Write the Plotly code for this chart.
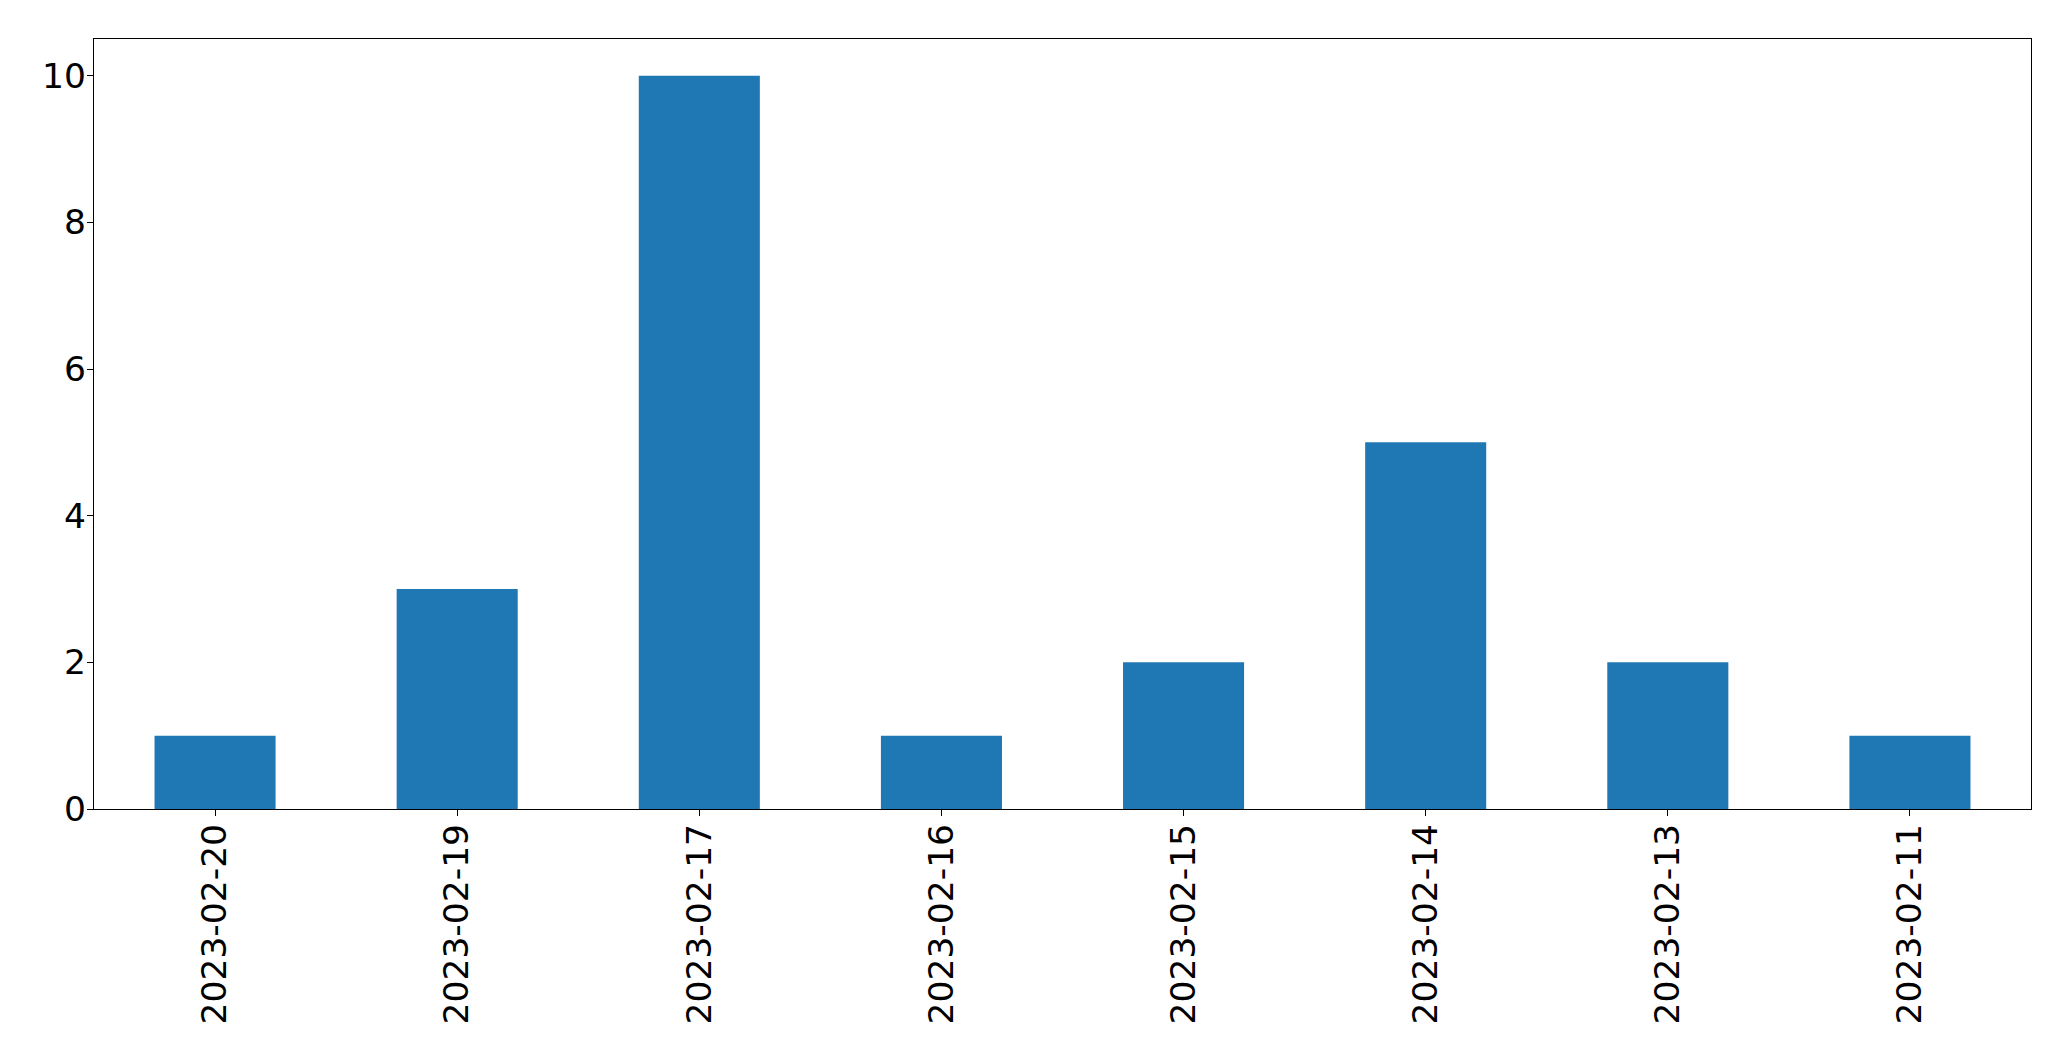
import plotly.graph_objects as go

categories = ["2023-02-20", "2023-02-19", "2023-02-17", "2023-02-16",
              "2023-02-15", "2023-02-14", "2023-02-13", "2023-02-11"]
counts = [1, 3, 10, 1, 2, 5, 2, 1]
y_ticks = [0, 2, 4, 6, 8, 10]

fig = go.Figure(go.Bar(x=categories, y=counts, width=0.5,
                       marker=dict(color="#1f77b4", line=dict(width=0))))

fig.update_layout(
    width=2071, height=1061,
    margin=dict(l=86, r=48, t=31, b=260, autoexpand=False),
    plot_bgcolor="white", paper_bgcolor="white",
    font=dict(family="DejaVu Sans", size=34.5, color="black"),
    showlegend=False,
)
fig.update_xaxes(
    type="category", range=[-0.5, 7.5], tickangle=-90,
    showline=True, linecolor="black", linewidth=1.3, mirror=True,
    ticks="outside", ticklen=6, tickwidth=1.3, tickcolor="black",
    showgrid=False, ticklabelstandoff=-6, automargin=False,
)
fig.update_yaxes(
    range=[0, 10.5], tickvals=y_ticks,
    showline=True, linecolor="black", linewidth=1.3, mirror=True,
    ticks="outside", ticklen=6, tickwidth=1.3, tickcolor="black",
    showgrid=False, zeroline=False, ticklabelstandoff=-6, automargin=False,
)

fig.write_html("out.html")
